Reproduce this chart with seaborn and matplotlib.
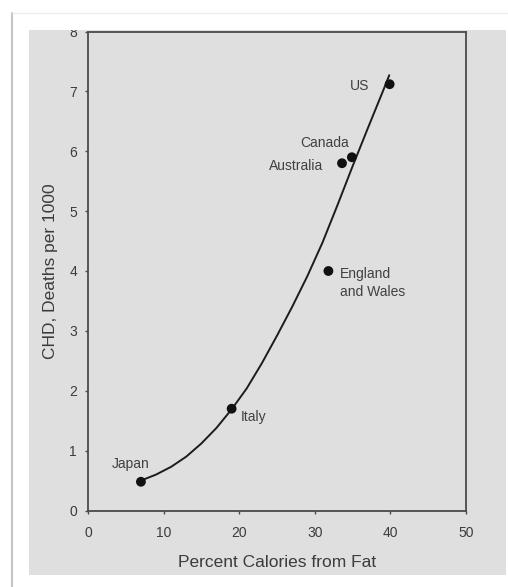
import matplotlib
matplotlib.use("Agg")
import matplotlib.pyplot as plt
import seaborn as sns
import pandas as pd
from matplotlib.patches import Rectangle
from matplotlib.lines import Line2D

# ---- data ----
countries = ["Japan", "Italy", "England\nand Wales", "Australia", "Canada", "US"]
fat_pct = [7, 19, 31.8, 33.6, 34.9, 39.9]
chd_deaths = [0.48, 1.70, 4.00, 5.80, 5.90, 7.12]

# hand-drawn trend curve
curve_x = [7, 9, 11, 13, 15, 17, 19, 21, 23, 25, 27, 29, 31, 33, 35, 37, 39, 39.85]
curve_y = [0.50, 0.60, 0.73, 0.90, 1.12, 1.38, 1.69, 2.04, 2.46, 2.92, 3.40,
           3.91, 4.47, 5.10, 5.75, 6.38, 7.00, 7.27]

x_ticks = [0, 10, 20, 30, 40, 50]
y_ticks = [0, 1, 2, 3, 4, 5, 6, 7, 8]
x_label = "Percent Calories from Fat"
y_label = "CHD, Deaths per 1000"

pts = pd.DataFrame({"fat": fat_pct, "chd": chd_deaths, "country": countries})
crv = pd.DataFrame({"fat": curve_x, "chd": curve_y})

sns.set_theme(style="white")
plt.rcParams["font.family"] = ["Liberation Sans", "DejaVu Sans"]

BG = "#dfdfdf"
TXT = "#3c3c3c"
SP = "#4a4a4a"

fig = plt.figure(figsize=(5.08, 5.87), dpi=100)
fig.patch.set_facecolor("white")

# grey scanned page region
fig.add_artist(Rectangle((29 / 508, 1 - 575 / 587), (506 - 29) / 508, (575 - 30) / 587,
                         transform=fig.transFigure, facecolor=BG, edgecolor="none", zorder=-5))

ax = fig.add_axes([88 / 508, 1 - 510.5 / 587, (466 - 88) / 508, (510.5 - 31.5) / 587])
ax.set_facecolor(BG)

sns.lineplot(data=crv, x="fat", y="chd", ax=ax, color="#1c1c1c", linewidth=1.4,
             sort=False, estimator=None)
sns.scatterplot(data=pts, x="fat", y="chd", ax=ax, color="#111111", s=50,
                edgecolor="none", zorder=5)

# labels: (offset in points, ha, va)
label_style = {
    "Japan": ((-7.7, 12.7), "center", "center"),
    "Italy": ((6.5, -6.0), "left", "center"),
    "England\nand Wales": ((8.6, -8.6), "left", "center"),
    "Australia": ((-13.2, -2.0), "right", "center"),
    "Canada": ((-19.4, 10.6), "center", "center"),
    "US": ((-15.0, -1.5), "right", "center"),
}
for c, xv, yv in zip(countries, fat_pct, chd_deaths):
    off, ha, va = label_style[c]
    ax.annotate(c, (xv, yv), xytext=off, textcoords="offset points", ha=ha, va=va,
                fontsize=10, color="#404040", linespacing=1.4)

ax.set_xlim(0, 50)
ax.set_ylim(0, 8)
ax.set_xticks(x_ticks)
ax.set_yticks(y_ticks)
ax.set_xlabel(x_label, fontsize=12.5, color=TXT, labelpad=10.5)
ax.set_ylabel(y_label, fontsize=12.5, color=TXT, labelpad=8)
ax.tick_params(axis="both", direction="out", length=2.5, width=1, color=SP,
               labelsize=10, labelcolor=TXT, left=True, bottom=True)
ax.tick_params(axis="x", pad=9)
ax.tick_params(axis="y", pad=5.4)
for s in ax.spines.values():
    s.set_visible(True)
    s.set_color(SP)
    s.set_linewidth(1.3)

# white page margin above the grey region (clips the top tick label like the scan)
fig.add_artist(Rectangle((12 / 508, 1 - 30 / 587), 1, 30 / 587, transform=fig.transFigure,
                         facecolor="white", edgecolor="none", zorder=10))
# screenshot frame lines
fig.add_artist(Line2D([11.5 / 508, 11.5 / 508], [0, 1 - 13 / 587], transform=fig.transFigure,
                      color="#c4c4c4", linewidth=1.5, zorder=11))
fig.add_artist(Line2D([11.5 / 508, 1], [1 - 13 / 587, 1 - 13 / 587], transform=fig.transFigure,
                      color="#ececec", linewidth=1.0, zorder=11))

fig.savefig("out.png", dpi=100)
